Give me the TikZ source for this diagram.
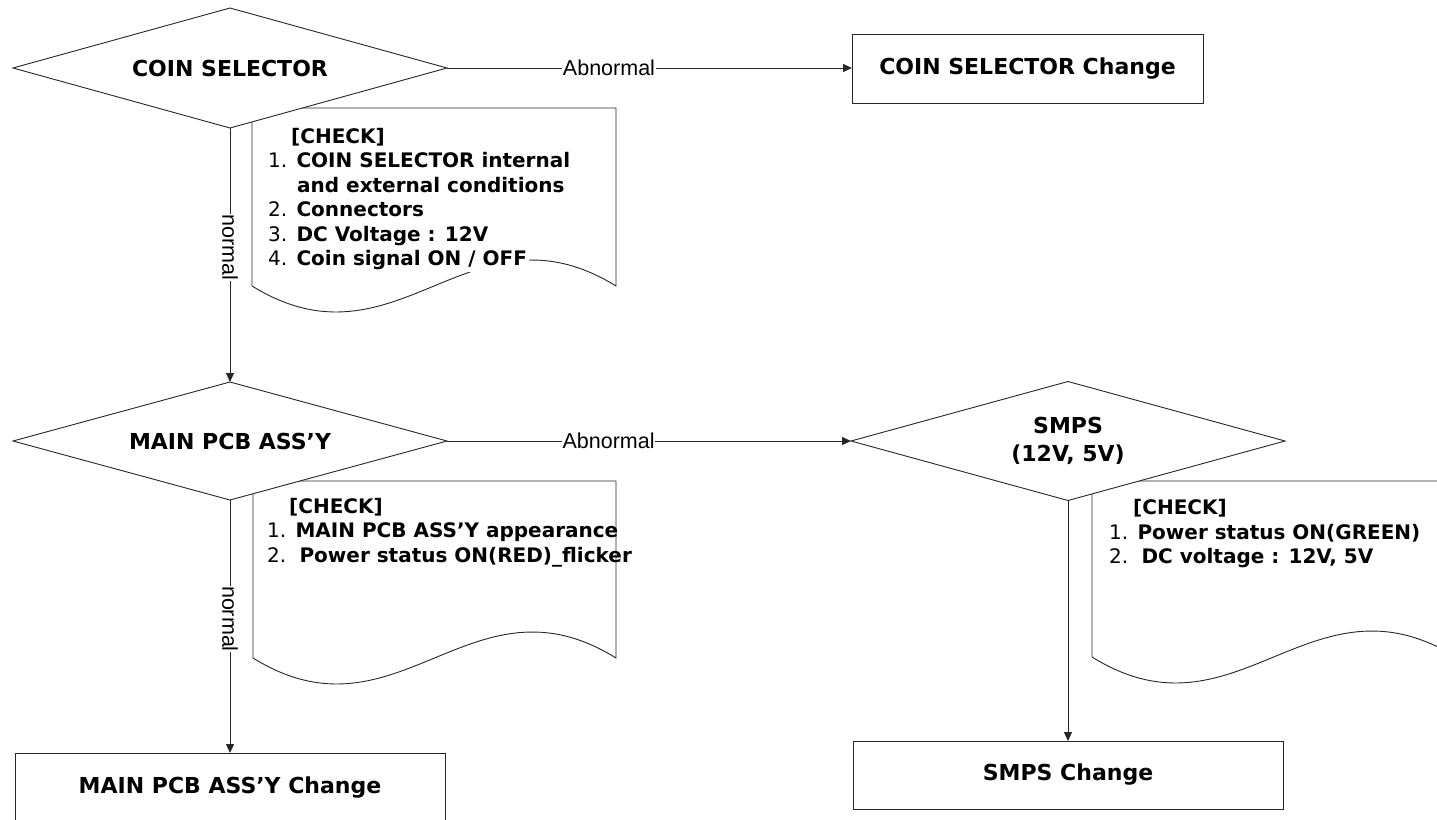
\documentclass[tikz,border=0pt]{standalone}
\usepackage{fontspec}
\setmainfont{DejaVu Sans}
\newfontfamily\lblfont{Liberation Sans}
\usetikzlibrary{shapes.geometric,arrows.meta}
\begin{document}
\begin{tikzpicture}[x=1pt,y=-1pt,
  ln/.style={draw=black!85,line width=0.9pt},
  dec/.style={diamond,aspect=3.65,ln,fill=white,inner sep=0pt,outer sep=0pt,minimum width=434pt,
    font=\fontsize{22}{28}\selectfont\bfseries,align=center},
  box/.style={rectangle,ln,fill=white,inner sep=0pt,outer sep=0pt,
    font=\fontsize{22}{28}\selectfont\bfseries},
  arr/.style={ln,-{Triangle[length=9pt,width=8pt]}},
  lbl/.style={fill=white,inner sep=0.5pt,font=\lblfont\fontsize{21.5}{24}\selectfont},
  chk/.style={anchor=base west,inner sep=0pt,font=\fontsize{20}{24}\selectfont\bfseries},
  docshape/.style={ln}
]
\useasboundingbox (0,0) rectangle (1437,819);
\clip (0,0) rectangle (1437,819);

% document shapes (drawn first, diamonds cover their corners)
\draw[docshape] (252,286) -- (252,108) -- (616,108) -- (616,286)
  .. controls (470,196) and (398,376) .. (252,286);
\draw[docshape] (253,658) -- (253,481) -- (616,481) -- (616,658)
  .. controls (471,568) and (398,748) .. (253,658);
\draw[docshape] (1092,657) -- (1092,481) -- (1456,481) -- (1456,657)
  .. controls (1310,567) and (1237,747) .. (1092,657);

% check texts
\node[chk] (c1h) at (291,143) {[CHECK]};
\node[chk] (c11) at (268,167.5) {\textmd{1.} COIN SELECTOR internal};
\node[chk] (c12) at (297,192) {and external conditions};
\node[chk] (c13) at (268,216.5) {\textmd{2.} Connectors};
\node[chk] (c14) at (268,241) {\textmd{3.} DC Voltage : 12V};
\node[chk,fill=white,inner sep=2pt] (c15) at (266,265.5) {\textmd{4.} Coin signal ON / OFF};

\node[chk] (c2h) at (289,513) {[CHECK]};
\node[chk] (c21) at (267,537.5) {\textmd{1.} MAIN PCB ASS’Y appearance};
\node[chk] (c22) at (267,562) {\textmd{2.}\hspace{4pt} Power status ON(RED)\_flicker};

\node[chk] (c3h) at (1133,514) {[CHECK]};
\node[chk] (c31) at (1109,539) {\textmd{1.} Power status ON(GREEN)};
\node[chk] (c32) at (1109,563) {\textmd{2.}\hspace{4pt} DC voltage : 12V, 5V};

% decisions
\node[dec,minimum height=120pt] (d1) at (230,68) {COIN SELECTOR};
\node[dec,minimum height=118pt] (d2) at (230,441) {MAIN PCB ASS’Y};
\node[dec,minimum height=119pt] (d3) at (1068,441) {SMPS\\(12V, 5V)};

% result boxes
\node[box,minimum width=351pt,minimum height=69pt] (b1) at (1027.5,68.5) {COIN SELECTOR Change};
\node[box,minimum width=430pt,minimum height=70pt] (b2) at (230,788) {MAIN PCB ASS’Y Change};
\node[box,minimum width=430pt,minimum height=68pt] (b3) at (1068,775) {SMPS Change};

% connectors
\draw[arr] (d1.east) -- node[lbl,pos=0.40] {Abnormal} (b1.west |- d1.east);
\draw[arr] (d1.south) -- node[lbl,pos=0.47,rotate=-90] {normal} (d2.north);
\draw[arr] (d2.east) -- node[lbl,pos=0.40] {Abnormal} (d3.west);
\draw[arr] (d2.south) -- node[lbl,pos=0.47,rotate=-90] {normal} (b2.north);
\draw[arr] (d3.south) -- (b3.north);
\end{tikzpicture}
\end{document}
